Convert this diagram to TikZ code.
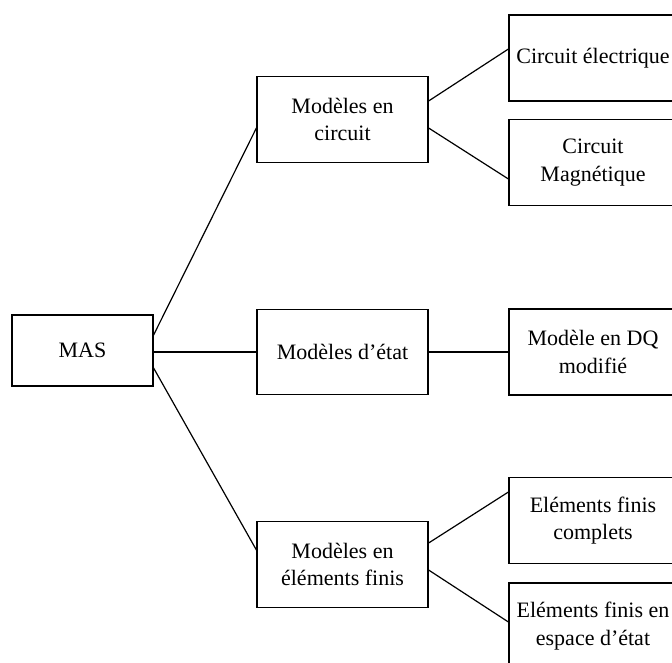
\documentclass[tikz,border=0pt]{standalone}
\usepackage{fontspec}
\setmainfont{Liberation Serif}
\usepackage{tikz}
\usetikzlibrary{calc}

\begin{document}
\begin{tikzpicture}[x=0.5pt,y=-0.5pt,
  box/.style={draw,line width=0.6pt,align=center,inner sep=2pt,
    font=\fontsize{11}{13.75}\selectfont,minimum width=85.5pt,minimum height=42.75pt},
  leaf/.style={box,minimum width=84pt,minimum height=43pt},
  link/.style={line width=0.6pt}]
\clip (0,0) rectangle (672,662);

\node[box,minimum width=70.5pt,minimum height=35.5pt] (mas) at (82.5,350.5) {MAS};

\node[box] (circ) at (342.5,119.5) {Modèles en\\circuit};
\node[box] (etat) at (342.5,352) {Modèles d’état};
\node[box] (ef) at (342.5,564.5) {Modèles en\\éléments finis};

\node[leaf] (elec) at (593,58) {Circuit électrique};
\node[leaf] (magn) at (593,162.5) {Circuit\\Magnétique};
\node[leaf] (dq) at (593,352) {Modèle en DQ\\modifié};
\node[leaf] (comp) at (593,520.5) {Eléments finis\\complets};
\node[leaf] (esp) at (593,626) {Eléments finis en\\espace d’état};

\draw[link] ($(mas.east)+(0,-15.5)$) -- ($(circ.west)+(0,8.5)$);
\draw[link] (etat.west -| mas.east) -- (etat.west);
\draw[link] ($(mas.east)+(0,17.5)$) -- ($(ef.west)+(0,-14.5)$);

\draw[link] ($(circ.east)+(0,-18.5)$) -- ($(elec.west)+(0,-9)$);
\draw[link] ($(circ.east)+(0,8.5)$) -- ($(magn.west)+(0,16.5)$);
\draw[link] (etat.east) -- (dq.west);
\draw[link] ($(ef.east)+(0,-21.5)$) -- ($(comp.west)+(0,-28.5)$);
\draw[link] ($(ef.east)+(0,5.5)$) -- ($(esp.west)+(0,-4)$);
\end{tikzpicture}
\end{document}
